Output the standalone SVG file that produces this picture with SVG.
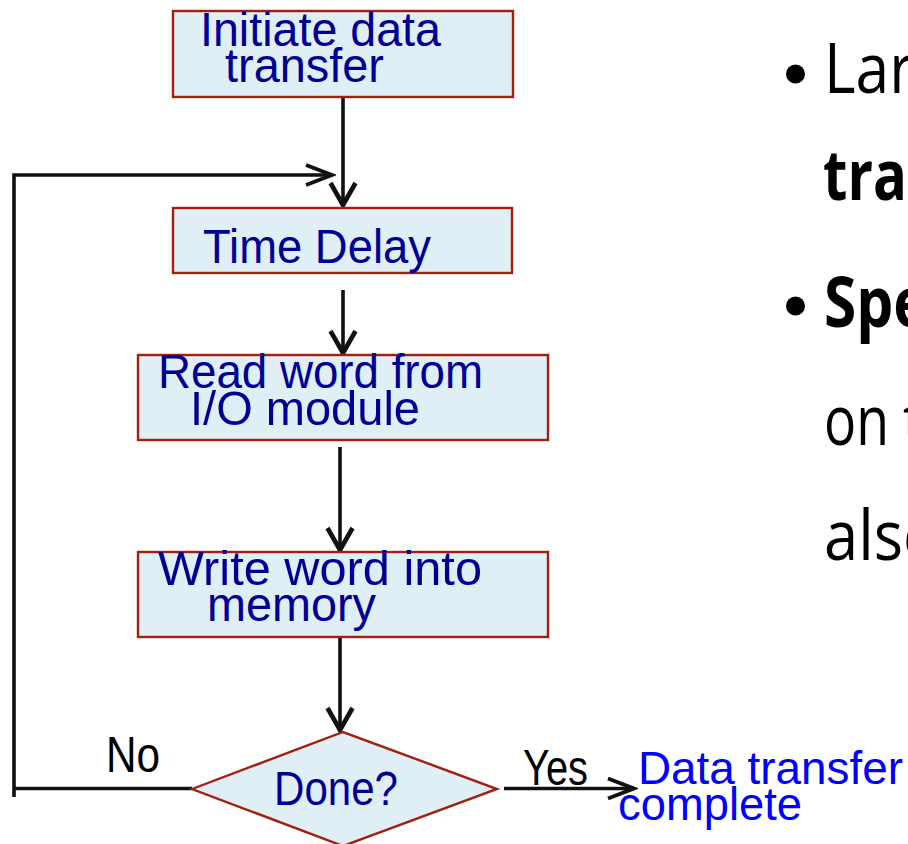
<svg xmlns="http://www.w3.org/2000/svg" width="908" height="844" viewBox="0 0 908 844">
  <defs>
    <style>
      .box { fill: #e0eff5; stroke: #a0200f; stroke-width: 2.4; }
      .lbl { font-family: "Liberation Sans", Arial, sans-serif; font-size: 49px; fill: #000096; }
      .tag { font-family: "Liberation Sans", Arial, sans-serif; font-size: 50px; fill: #000000; }
      .out { font-family: "Liberation Sans", Arial, sans-serif; font-size: 46px; fill: #0000ff; }
      .wire { fill: none; stroke: #111111; stroke-width: 3.6; }
      .body { font-family: "Open Sans", "Noto Sans", sans-serif; font-size: 70px; fill: #000000; }
      .bold { font-weight: bold; }
    </style>
    <marker id="vee" markerUnits="userSpaceOnUse" markerWidth="30" markerHeight="30" viewBox="-25 -15 30 30" refX="0" refY="0" orient="auto">
      <path d="M-22,-12.5 L0,0 L-22,12.5" fill="none" stroke="#111111" stroke-width="4.6" stroke-linejoin="miter"/>
    </marker>
    <marker id="veeSlim" markerUnits="userSpaceOnUse" markerWidth="34" markerHeight="30" viewBox="-30 -15 34 30" refX="0" refY="0" orient="auto">
      <path d="M-26,-10 L0,0 L-26,10" fill="none" stroke="#111111" stroke-width="4" stroke-linejoin="miter"/>
    </marker>
  </defs>

  <!-- connectors -->
  <g id="connectors">
    <line class="wire" x1="343" y1="97" x2="343" y2="205" marker-end="url(#vee)"/>
    <polyline class="wire" points="14,797 14,175 332,175" marker-end="url(#veeSlim)"/>
    <line class="wire" x1="343" y1="290" x2="343" y2="353" marker-end="url(#vee)"/>
    <line class="wire" x1="340" y1="447" x2="340" y2="550" marker-end="url(#vee)"/>
    <line class="wire" x1="340" y1="637" x2="340" y2="730" marker-end="url(#vee)"/>
    <line class="wire" x1="14" y1="788.5" x2="192" y2="788.5"/>
    <line class="wire" x1="504" y1="788.5" x2="634" y2="788.5" marker-end="url(#veeSlim)"/>
  </g>

  <!-- flowchart nodes -->
  <g id="initiate">
    <rect class="box" x="173" y="11" width="340" height="86"/>
    <text class="lbl" x="200" y="46" textLength="241" lengthAdjust="spacingAndGlyphs">Initiate data</text>
    <text class="lbl" x="225" y="82" textLength="159" lengthAdjust="spacingAndGlyphs">transfer</text>
  </g>

  <g id="delay">
    <rect class="box" x="173" y="208" width="339" height="65"/>
    <text class="lbl" x="203" y="263" font-size="50" textLength="228" lengthAdjust="spacingAndGlyphs">Time Delay</text>
  </g>

  <g id="read">
    <rect class="box" x="138" y="355" width="410" height="85"/>
    <text class="lbl" x="158" y="388" textLength="325" lengthAdjust="spacingAndGlyphs">Read word from</text>
    <text class="lbl" x="190" y="425" textLength="230" lengthAdjust="spacingAndGlyphs">I/O module</text>
  </g>

  <g id="write">
    <rect class="box" x="138" y="552" width="410" height="85"/>
    <text class="lbl" x="158" y="585" textLength="324" lengthAdjust="spacingAndGlyphs">Write word into</text>
    <text class="lbl" x="207" y="621" textLength="169" lengthAdjust="spacingAndGlyphs">memory</text>
  </g>

  <g id="done">
    <polygon class="box" points="192,789 343,732 497,789 343,846"/>
    <text class="lbl" x="274" y="805" font-size="47" textLength="124" lengthAdjust="spacingAndGlyphs">Done?</text>
  </g>

  <!-- branch labels -->
  <g id="branch-no">
    <text class="tag" x="106" y="772" textLength="54" lengthAdjust="spacingAndGlyphs">No</text>
  </g>
  <g id="branch-yes">
    <text class="tag" x="523" y="785" font-size="47" textLength="65" lengthAdjust="spacingAndGlyphs">Yes</text>
  </g>

  <g id="complete">
    <text class="out" x="638" y="784" textLength="265" lengthAdjust="spacingAndGlyphs">Data transfer</text>
    <text class="out" x="618" y="820" textLength="184" lengthAdjust="spacingAndGlyphs">complete</text>
  </g>

  <!-- bullet text running off the right edge -->
  <g id="bullets">
    <circle cx="795.5" cy="74" r="9.5" fill="#000000"/>
    <text class="body" x="824" y="93" textLength="90" lengthAdjust="spacingAndGlyphs">Lar</text>
    <text class="body bold" x="823" y="200" textLength="84" lengthAdjust="spacingAndGlyphs">tra</text>
    <circle cx="795.5" cy="306" r="9.5" fill="#000000"/>
    <text class="body bold" x="824" y="327" textLength="104" lengthAdjust="spacingAndGlyphs">Spe</text>
    <text class="body" x="824" y="445" textLength="98" lengthAdjust="spacingAndGlyphs">on t</text>
    <text class="body" x="824" y="560" textLength="116" lengthAdjust="spacingAndGlyphs">also</text>
  </g>
</svg>
